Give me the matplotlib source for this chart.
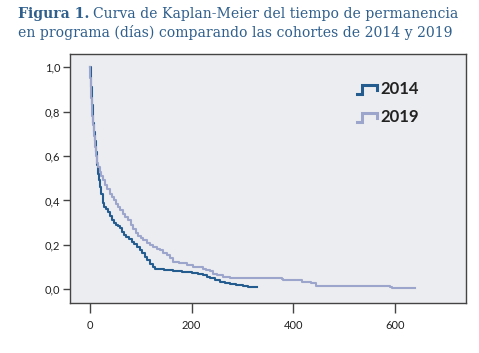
import matplotlib
matplotlib.use("Agg")
import matplotlib.pyplot as plt
from matplotlib.lines import Line2D
from matplotlib.transforms import offset_copy

# Kaplan-Meier estimates (days, survival)
t2014 = [0, 2, 3, 4, 5, 6, 7, 8, 10, 12,
         14, 16, 18, 20, 22, 25, 28, 32, 36, 40,
         43, 47, 52, 56, 60, 64, 68, 72, 77, 82,
         87, 92, 98, 103, 108, 113, 118, 124, 128, 145,
         164, 182, 200, 212, 223, 230, 236, 246, 255, 265,
         275, 288, 300, 311, 329]
s2014 = [1.0, 0.95, 0.91, 0.87, 0.83, 0.79, 0.75, 0.71, 0.67, 0.62,
         0.56, 0.52, 0.49, 0.46, 0.43, 0.39, 0.37, 0.36, 0.35, 0.33,
         0.31, 0.30, 0.29, 0.285, 0.275, 0.26, 0.245, 0.237, 0.225, 0.212,
         0.205, 0.19, 0.177, 0.165, 0.145, 0.13, 0.115, 0.10, 0.09, 0.085,
         0.08, 0.076, 0.072, 0.068, 0.064, 0.057, 0.05, 0.042, 0.034, 0.03,
         0.025, 0.019, 0.015, 0.008, 0.008]

t2019 = [0, 1, 2, 3, 4, 5, 6, 8, 10, 12,
         14, 16, 19, 22, 26, 30, 34, 39, 44, 48,
         52, 56, 60, 65, 70, 75, 80, 85, 90, 95,
         100, 105, 112, 118, 124, 131, 137, 144, 151, 158,
         164, 176, 190, 203, 223, 229, 236, 242, 249, 262,
         275, 377, 380, 416, 435, 445, 589, 593, 638]
s2019 = [1.0, 0.95, 0.9, 0.86, 0.82, 0.78, 0.74, 0.69, 0.64, 0.6,
         0.57, 0.55, 0.53, 0.51, 0.49, 0.47, 0.45, 0.43, 0.415, 0.40,
         0.385, 0.37, 0.355, 0.34, 0.325, 0.31, 0.29, 0.27, 0.255, 0.24,
         0.23, 0.22, 0.207, 0.2, 0.19, 0.18, 0.175, 0.165, 0.155, 0.14,
         0.124, 0.117, 0.11, 0.1, 0.09, 0.087, 0.08, 0.07, 0.064, 0.055,
         0.05, 0.046, 0.042, 0.034, 0.027, 0.015, 0.01, 0.005, 0.005]

cohorts = ["2014", "2019"]
xticks = [0, 200, 400, 600]
yticks = [0.0, 0.2, 0.4, 0.6, 0.8, 1.0]

dark = "#245c8f"
light = "#9ca5cb"
title_col = "#2f5f8c"
spine_col = "#444444"

W, H = 479, 353
fig = plt.figure(figsize=(W / 100, H / 100), dpi=100)
fig.patch.set_facecolor("white")

ax = fig.add_axes([70 / W, 1 - 303 / H, 396 / W, 249 / H])
ax.set_facecolor("#ecedf0")

ax.step(t2014, s2014, where="post", color=dark, lw=1.5)
ax.step(t2019, s2019, where="post", color=light, lw=1.5)

ax.set_xlim(-39, 739)
ax.set_ylim(-0.062, 1.06)
ax.set_xticks(xticks)
ax.set_xticklabels([str(v) for v in xticks])
ax.set_yticks(yticks)
ax.set_yticklabels([f"{v:.1f}".replace(".", ",") for v in yticks])
for sp in ax.spines.values():
    sp.set_color(spine_col)
    sp.set_linewidth(1.0)
ax.tick_params(axis="x", length=7, width=1, color=spine_col, pad=5,
               labelsize=8, labelcolor="#222222")
ax.tick_params(axis="y", length=5, width=1, color=spine_col, pad=2,
               labelsize=8, labelcolor="#222222")
for lab in ax.get_xticklabels() + ax.get_yticklabels():
    lab.set_family("Lato")

# legend drawn as step icons, like the SPSS output
def px(x, y):
    return x / W, 1 - y / H

for i, (name, col) in enumerate(zip(cohorts, [dark, light])):
    dy = i * 28
    xs = [357, 362, 362, 377, 377]
    ys = [94 + dy, 94 + dy, 85 + dy, 85 + dy, 90 + dy]
    pts = [px(x, y) for x, y in zip(xs, ys)]
    fig.add_artist(Line2D([p[0] for p in pts], [p[1] for p in pts],
                          color=col, lw=2.2, transform=fig.transFigure,
                          solid_joinstyle="miter"))
    fig.text(*px(380, 89 + dy), name, family="Lato", fontweight="bold",
             fontsize=12, color="#222222", va="center", ha="left")

# title: bold label followed by the regular text
tfs = 10.1
lab = fig.text(*px(18, 14), "Figura 1.", family="DejaVu Serif",
               fontweight="bold", fontsize=tfs, color=title_col,
               va="center", ha="left")
fig.canvas.draw()
bb = lab.get_window_extent()
fig.text(bb.x1 / W + 4 / W, 1 - 14 / H,
         "Curva de Kaplan-Meier del tiempo de permanencia",
         family="DejaVu Serif", fontsize=tfs, color=title_col,
         va="center", ha="left")
fig.text(*px(18, 33), "en programa (días) comparando las cohortes de 2014 y 2019",
         family="DejaVu Serif", fontsize=tfs, color=title_col,
         va="center", ha="left")

fig.savefig("out.png", dpi=100)
